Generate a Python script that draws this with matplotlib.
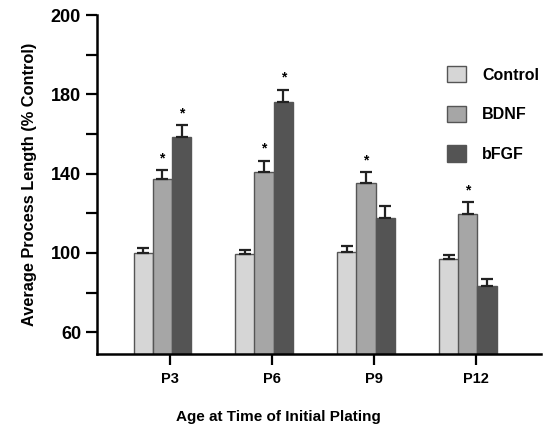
import numpy as np
import matplotlib.pyplot as plt

plt.rcParams['font.family'] = ['Liberation Sans', 'DejaVu Sans']
plt.rcParams['font.weight'] = 'bold'

ages = ["P3", "P6", "P9", "P12"]
groups = ["Control", "BDNF", "bFGF"]
control = [100.0, 99.2, 100.3, 96.8]
control_err = [2.5, 2.3, 3.3, 2.3]
bdnf = [137.2, 140.9, 135.2, 119.8]
bdnf_err = [4.5, 5.5, 5.5, 5.7]
bfgf = [158.3, 175.9, 117.6, 83.1]
bfgf_err = [6.0, 6.5, 5.9, 3.9]
# significance markers (True = asterisk)
bdnf_sig = [True, True, True, True]
bfgf_sig = [True, True, False, False]

# printed tick labels (top label in the original reads 200)
ytick_vals = [60, 100, 140, 180, 220]
ytick_labels = ["60", "100", "140", "180", "200"]
yminor_vals = [80, 120, 160, 200]

colors = ["#d6d6d6", "#a6a6a6", "#545454"]
edge = "#555555"

fig = plt.figure(figsize=(5.48, 4.28), dpi=100)
ax = fig.add_axes([97 / 548, 1 - 354 / 428, 444 / 548, 339 / 428])

x = np.arange(len(ages))
w = 0.19
offsets = [-0.265, -0.08, 0.11]
series = [(control, control_err), (bdnf, bdnf_err), (bfgf, bfgf_err)]
for i, (vals, errs) in enumerate(series):
    ax.bar(x + offsets[i], vals, w, color=colors[i], edgecolor=edge,
           linewidth=1.0, label=groups[i], zorder=2)
    ax.errorbar(x + offsets[i], vals, yerr=[np.zeros(len(vals)), errs],
                fmt="none", ecolor="#222222", elinewidth=1.6, capsize=4.2,
                capthick=1.6, zorder=3)

for i in range(len(ages)):
    if bdnf_sig[i]:
        ax.text(x[i] + offsets[1], bdnf[i] + bdnf_err[i] + 2.5, "*",
                ha="center", va="bottom", fontsize=10)
    if bfgf_sig[i]:
        ax.text(x[i] + offsets[2], bfgf[i] + bfgf_err[i] + 2.5, "*",
                ha="center", va="bottom", fontsize=10)

ax.set_xlim(-0.72, 3.64)
ax.set_ylim(49, 220)
ax.set_xticks(x)
ax.set_xticklabels(ages, fontsize=10.5, fontweight="bold")
ax.set_yticks(ytick_vals)
ax.set_yticklabels(ytick_labels, fontsize=13, fontweight="bold")
ax.set_yticks(yminor_vals, minor=True)
ax.tick_params(axis="y", which="both", direction="out", length=8, width=1.6)
ax.tick_params(axis="x", direction="out", length=8, width=1.6, pad=5)

for s in ["top", "right"]:
    ax.spines[s].set_visible(False)
ax.spines["left"].set_linewidth(1.8)
ax.spines["bottom"].set_linewidth(1.8)

ax.set_ylabel("Average Process Length (% Control)", fontsize=11.8,
              fontweight="bold", labelpad=10)
fig.text(278 / 548, 1 - 417 / 428, "Age at Time of Initial Plating",
         ha="center", va="center", fontsize=11, fontweight="bold")

leg = fig.legend(loc="upper left", bbox_to_anchor=(447 / 548, 1 - 66 / 428),
                 frameon=False, fontsize=11.5, handlelength=1.2,
                 handleheight=1.2, labelspacing=1.45, handletextpad=1.0,
                 borderpad=0, borderaxespad=0)

fig.savefig("out.png", dpi=100)
